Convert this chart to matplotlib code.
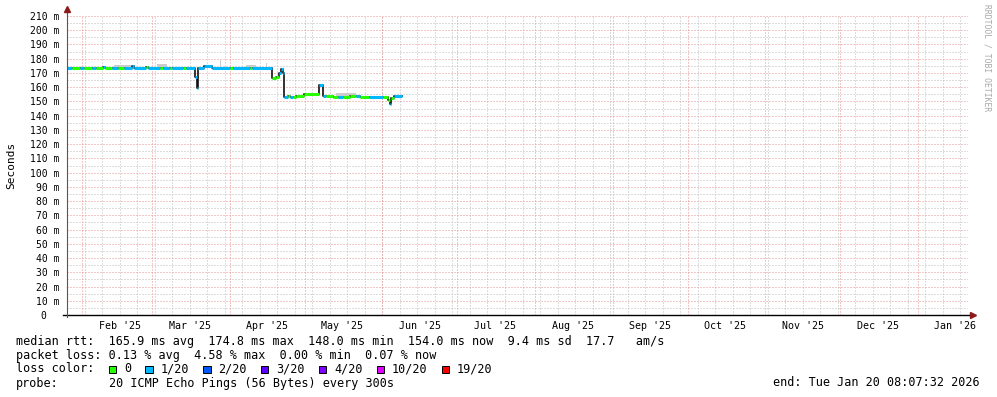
import numpy as np
import pandas as pd
import matplotlib
matplotlib.use("Agg")
import matplotlib.pyplot as plt
import matplotlib.dates as mdates
from matplotlib.patches import Rectangle

plt.rcParams['font.family'] = ['DejaVu Sans Mono']

# median rtt, one entry per step: start time, value in ms, loss bucket (0 -> "0", 1 -> "1/20")
step_times = [
    "2025-01-25 18:00", "2025-01-27 21:00", "2025-01-31 02:00", "2025-02-01 16:00",
    "2025-02-04 21:00", "2025-02-06 12:00", "2025-02-09 07:00", "2025-02-10 02:00",
    "2025-02-12 21:00", "2025-02-15 07:00", "2025-02-17 16:00", "2025-02-20 21:00",
    "2025-02-21 16:00", "2025-02-26 12:00", "2025-02-27 07:00", "2025-03-04 02:00",
    "2025-03-05 07:00", "2025-03-08 02:00", "2025-03-08 21:00", "2025-03-13 07:00",
    "2025-03-14 12:00", "2025-03-18 02:00", "2025-03-18 16:00", "2025-03-19 10:00",
    "2025-03-21 16:00", "2025-03-24 21:00", "2025-04-01 02:00", "2025-04-02 07:00",
    "2025-04-09 02:00", "2025-04-09 21:00", "2025-04-17 21:00", "2025-04-19 12:00",
    "2025-04-20 16:00", "2025-04-21 12:00", "2025-04-22 02:00", "2025-04-22 16:00",
    "2025-04-24 07:00", "2025-04-25 02:00", "2025-04-26 07:00", "2025-04-27 12:00",
    "2025-04-30 16:00", "2025-05-06 19:00", "2025-05-08 02:00", "2025-05-09 12:00",
    "2025-05-12 07:00", "2025-05-14 07:00", "2025-05-16 07:00", "2025-05-19 02:00",
    "2025-05-21 12:00", "2025-05-23 02:00", "2025-05-26 16:00", "2025-06-01 02:00",
    "2025-06-03 02:00", "2025-06-03 21:00", "2025-06-04 12:00", "2025-06-05 12:00",
]
step_ms = [
    173.6, 173.6, 173.6, 173.6, 173.6, 173.6, 174.5, 173.6,
    173.6, 173.6, 173.6, 174.6, 173.6, 174.0, 173.6, 173.6,
    173.6, 173.6, 173.6, 173.6, 173.6, 167.5, 159.5, 173.6,
    174.8, 173.6, 173.6, 173.6, 173.6, 173.6, 166.4, 167.5,
    169.8, 172.8, 170.3, 153.3, 153.6, 153.0, 153.3, 153.9,
    154.9, 161.2, 154.0, 153.5, 153.0, 153.4, 153.2, 153.6,
    153.8, 153.3, 153.0, 152.8, 151.0, 148.0, 152.5, 154.0,
]
step_loss = [
    1, 0, 1, 0, 1, 0, 1, 0,
    1, 0, 1, 1, 1, 0, 1, 0,
    1, 0, 1, 0, 1, 1, 1, 1,
    1, 1, 0, 1, 0, 1, 0, 0,
    1, 1, 1, 1, 0, 1, 0, 0,
    0, 1, 1, 0, 0, 1, 0, 0,
    1, 0, 1, 0, 0, 1, 0, 1,
]
data_end = "2025-06-08 16:00"

# smoke (spread of the pings) where it shows above the median
smoke_start = ["2025-02-13 17:00", "2025-03-02 22:00", "2025-03-27 22:00",
               "2025-04-07 12:00", "2025-04-15 07:00", "2025-05-13 12:00"]
smoke_end = ["2025-02-20 12:00", "2025-03-06 22:00", "2025-03-28 12:00",
             "2025-04-11 12:00", "2025-04-15 22:00", "2025-05-21 12:00"]
smoke_lo = [173.6, 173.6, 173.6, 173.6, 173.6, 153.6]
smoke_hi = [175.4, 176.0, 179.0, 175.6, 177.2, 155.6]

loss_labels = ["0", "1/20", "2/20", "3/20", "4/20", "10/20", "19/20"]
loss_colors = ["#26ff00", "#00b8ff", "#0059ff", "#5e00ff", "#7e00ff", "#dd00ff", "#ff0000"]

month_labels = ["Feb '25", "Mar '25", "Apr '25", "May '25", "Jun '25", "Jul '25",
                "Aug '25", "Sep '25", "Oct '25", "Nov '25", "Dec '25", "Jan '26"]

legend_lines = [
    "median rtt:  165.9 ms avg  174.8 ms max  148.0 ms min  154.0 ms now  9.4 ms sd  17.7   am/s",
    "packet loss: 0.13 % avg  4.58 % max  0.00 % min  0.07 % now",
]
probe_text = "20 ICMP Echo Pings (56 Bytes) every 300s"
end_text = "end: Tue Jan 20 08:07:32 2026"

x_start = pd.Timestamp("2025-01-25 18:19")
x_end = pd.Timestamp("2026-01-21 02:40")

W, H = 997, 397
fig = plt.figure(figsize=(W / 100, H / 100), dpi=100)
ax = fig.add_axes([66.7 / W, 1 - 315 / H, (968 - 66.7) / W, (315 - 16) / H])


def num(ts):
    return mdates.date2num(pd.to_datetime(ts).to_pydatetime())


ax.set_xlim(num(x_start), num(x_end))
ax.set_ylim(0, 210)
for s in ax.spines.values():
    s.set_visible(False)

# grid, dotted like rrdtool
dot = (0, (1, 2))
minor_col, major_col = "#bdbdbd", "#e59090"
gkw = dict(lw=0.72, ls=dot)
for v in range(5, 210, 10):
    ax.axhline(v, color=minor_col, zorder=0, **gkw)
for d in pd.date_range("2025-01-26", "2026-01-20", freq="W-SUN"):
    ax.axvline(num(d), color=minor_col, zorder=0, **gkw)
for v in range(10, 211, 10):
    ax.axhline(v, color=major_col, zorder=1, **gkw)
months = pd.date_range("2025-02-01", "2026-01-01", freq="MS")
for d in months:
    ax.axvline(num(d), color=major_col, zorder=1, **gkw)

# smoke
for s, e, lo, hi in zip(smoke_start, smoke_end, smoke_lo, smoke_hi):
    ax.fill_between([num(s), num(e)], lo, hi, color="#cccccc", lw=0, zorder=2)

# median line
edges = [num(t) for t in step_times] + [num(data_end)]
ax.step(edges, step_ms + [step_ms[-1]], where="post", color="#101010", lw=1.2, zorder=3)
for i, v in enumerate(step_ms):
    ax.hlines(v, edges[i], edges[i + 1], color=loss_colors[step_loss[i]], lw=2.2, zorder=4)

# ticks
ax.set_yticks(range(0, 211, 10))
ax.set_yticklabels(["0  "] + [f"{v} m" for v in range(10, 211, 10)])
ax.set_xticks([num(d + pd.Timedelta(days=15)) for d in months])
ax.set_xticklabels(month_labels)
ax.tick_params(axis="y", length=0, pad=5.5, labelsize=7)
ax.tick_params(axis="x", length=0, pad=4, labelsize=7.2)
ax.set_ylabel("Seconds", fontsize=8, labelpad=10)

# axes with arrows
ax.plot([-0.004, 1.004], [0, 0], color="black", lw=1, transform=ax.transAxes, clip_on=False, zorder=5)
ax.plot([0, 0], [-0.008, 1.02], color="#555555", lw=0.8, transform=ax.transAxes, clip_on=False, zorder=5)
ax.plot([1.0055], [0], marker=">", ms=4, color="#8b1a1a", transform=ax.transAxes, clip_on=False, zorder=6)
ax.plot([0], [1.025], marker="^", ms=4, color="#8b1a1a", transform=ax.transAxes, clip_on=False, zorder=6)

# legend text
fs = 8.5
cw = 7.12


def ftext(x, y, s, **kw):
    fig.text(x / W, 1 - y / H, s, fontsize=kw.pop("fontsize", fs), va="center", **kw)


ftext(16, 341, legend_lines[0])
ftext(16, 355, legend_lines[1])
ftext(16, 369, "loss color:")
bx = 16 + 13 * cw
for lab, col in zip(loss_labels, loss_colors):
    fig.patches.append(Rectangle(((bx) / W, 1 - 373 / H), 7.5 / W, 7.5 / H, facecolor=col,
                                 edgecolor="black", lw=0.7, transform=fig.transFigure, figure=fig))
    lx = bx + 15.2
    ftext(lx, 369, lab)
    bx = lx + (len(lab) + 2) * cw
ftext(16, 383, "probe:")
ftext(16 + 13 * cw, 383, probe_text)
ftext(980, 383, end_text, ha="right")

fig.text(987 / W, 1 - 4 / H, "RRDTOOL / TOBI OETIKER", rotation=270, fontsize=5.8,
         color="#a8a8a8", ha="center", va="top")

fig.savefig("out.png", dpi=100)
